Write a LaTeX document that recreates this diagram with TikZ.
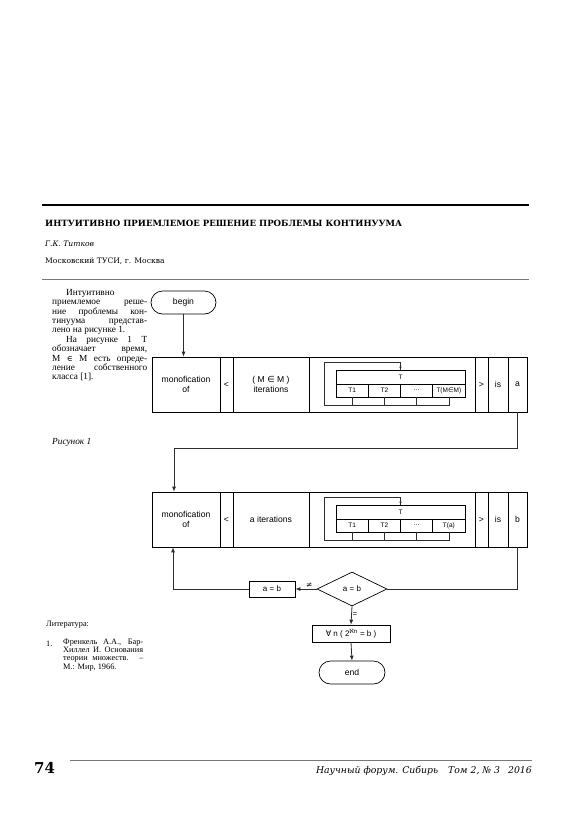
\documentclass[tikz,border=0pt]{standalone}
\usepackage{fontspec}
\setmainfont{Liberation Serif}
\setsansfont{Liberation Sans}
\newfontfamily\headfont{DejaVu Serif}
\newfontfamily\symfont{DejaVu Sans}
\usetikzlibrary{arrows.meta,positioning,shapes.geometric,shapes.misc,calc}
\usepackage{xcolor}
\definecolor{rulegrey}{RGB}{120,120,120}
\definecolor{flowcol}{RGB}{45,45,45}
\tikzset{
  pagetext/.style={inner sep=0pt,anchor=west},
  bodytext/.style={inner sep=0pt,anchor=north west,align=justify,
                   font=\fontsize{9.3}{9.4}\selectfont},
  cell/.style={draw=black,line width=.7pt,minimum height=55pt,inner sep=1pt,
               align=center,font=\sffamily\fontsize{8.6}{10}\selectfont},
  tcell/.style={draw=black,line width=.6pt,minimum width=32.25pt,
                minimum height=13pt,inner sep=0pt,
                font=\sffamily\fontsize{6.5}{7}\selectfont},
  terminal/.style={rounded rectangle,draw=black,line width=.7pt,
                   minimum width=67pt,minimum height=23pt,inner sep=1pt,
                   font=\sffamily\fontsize{8.6}{10}\selectfont},
  procbox/.style={rectangle,draw=black,line width=.7pt,minimum height=16pt,
                  inner sep=1pt,font=\sffamily\fontsize{8}{9}\selectfont},
  decision/.style={diamond,draw=black,line width=.7pt,minimum width=70pt,
                   minimum height=34pt,inner sep=0pt,
                   font=\sffamily\fontsize{8}{9}\selectfont},
  flow/.style={-{Latex[length=5pt,width=4pt]},draw=flowcol,line width=.8pt},
  link/.style={draw=flowcol,line width=.8pt},
  loopline/.style={draw=flowcol,line width=.6pt},
  lbl/.style={inner sep=1pt,font=\sffamily\fontsize{7.5}{8}\selectfont},
}

\begin{document}
\begin{tikzpicture}[x=1pt,y=-1pt]
  \path[fill=white] (0,0) rectangle (580,820);
  \tolerance=10000 \hbadness=10000
  % ---------------- header ----------------
  \draw[line width=1.6pt] (42,205) -- (529,205);
  \node[pagetext,font=\headfont\bfseries\fontsize{8.6}{10}\selectfont] (title) at (45,223)
    {ИНТУИТИВНО ПРИЕМЛЕМОЕ РЕШЕНИЕ ПРОБЛЕМЫ КОНТИНУУМА};
  \node[pagetext,font=\headfont\itshape\fontsize{7.6}{9}\selectfont] (author) at (45,244)
    {Г.К. Титков};
  \node[pagetext,font=\headfont\fontsize{7.6}{9}\selectfont] (affil) at (45,261)
    {Московский ТУСИ, г. Москва};
  \draw[draw=rulegrey,line width=.7pt] (42,279) -- (529,279);
  % ---------------- left column ----------------
  \node[bodytext,text width=95pt] (intro) at (52,289)
    {\hspace*{14pt}Интуитивно\linebreak приемлемое реше-\linebreak
     ние проблемы кон-\linebreak тинуума представ-\linebreak
     лено на рисунке 1.\par
     \hspace*{14pt}На рисунке 1 Т\linebreak обозначает время,\linebreak
     M {\headfont\fontsize{8}{9.4}\selectfont ∈} M есть опреде-\linebreak ление собственного\linebreak
     класса [1].};
  \node[pagetext,font=\itshape\fontsize{9.3}{10}\selectfont] (figcap) at (52,442) {Рисунок 1};
  \node[pagetext,font=\fontsize{8.3}{8.3}\selectfont] (litcap) at (46,625) {Литература:};
  \node[pagetext,font=\fontsize{8.3}{8.3}\selectfont] (litnum) at (46,644) {1.};
  \node[bodytext,text width=80pt,font=\fontsize{8.3}{8.4}\selectfont] (littext) at (63,638.5)
    {Френкель А.А., Бар-\linebreak Хиллел И. Основания\linebreak
     теории множеств. --\linebreak М.: Мир, 1966.};
  % ---------------- block 1 ----------------
  \node[terminal] (begin) at (183.5,302.5) {begin};
  \node[cell,minimum width=68pt]  (mono1) at (186,384.5)   {monofication\\of};
  \node[cell,minimum width=13pt]  (lt1)   at (226.5,384.5) {<};
  \node[cell,minimum width=76pt]  (iter1) at (271,384.5)   {( M {\symfont ∈} M )\\iterations};
  \node[cell,minimum width=166pt] (area1) at (392,384.5)   {};
  \node[cell,minimum width=13pt]  (gt1)   at (481.5,384.5) {>};
  \node[cell,minimum width=20pt]  (is1)   at (498,384.5)   {is};
  \node[cell,minimum width=19pt]  (val1)  at (517.5,384.5) {a};
  \node[tcell,minimum width=129pt,minimum height=14pt] (tT1) at (400.5,377) {T};
  \node[tcell] (t11) at (352.1,390.5) {T1};
  \node[tcell] (t12) at (384.4,390.5) {T2};
  \node[tcell] (t13) at (416.6,390.5) {\dots};
  \node[tcell] (t14) at (448.9,390.5) {T(M{\symfont ∈}M)};
  \coordinate (loop1) at (324,362);
  \draw[loopline] (t14.south) -- ++(0,8) -| (loop1) -| (tT1.north);
  \draw[loopline,-{Latex[length=3pt,width=2.5pt]}] ($(tT1.north)+(0,-6)$) -- (tT1.north);
  \foreach \c in {t11,t12,t13}{
    \draw[loopline] (\c.south) -- ++(0,8);}
  % ---------------- block 2 ----------------
  \node[cell,minimum width=68pt]  (mono2) at (186,519.5)   {monofication\\of};
  \node[cell,minimum width=13pt]  (lt2)   at (226.5,519.5) {<};
  \node[cell,minimum width=76pt]  (iter2) at (271,519.5)   {a iterations};
  \node[cell,minimum width=166pt] (area2) at (392,519.5)   {};
  \node[cell,minimum width=13pt]  (gt2)   at (481.5,519.5) {>};
  \node[cell,minimum width=20pt]  (is2)   at (498,519.5)   {is};
  \node[cell,minimum width=19pt]  (val2)  at (517.5,519.5) {b};
  \node[tcell,minimum width=129pt,minimum height=14pt] (tT2) at (400.5,512) {T};
  \node[tcell] (t21) at (352.1,525.5) {T1};
  \node[tcell] (t22) at (384.4,525.5) {T2};
  \node[tcell] (t23) at (416.6,525.5) {\dots};
  \node[tcell] (t24) at (448.9,525.5) {T(a)};
  \coordinate (loop2) at (324,497);
  \draw[loopline] (t24.south) -- ++(0,8) -| (loop2) -| (tT2.north);
  \draw[loopline,-{Latex[length=3pt,width=2.5pt]}] ($(tT2.north)+(0,-6)$) -- (tT2.north);
  \foreach \c in {t21,t22,t23}{
    \draw[loopline] (\c.south) -- ++(0,8);}
  % ---------------- test and exit ----------------
  \node[decision] (test) at (352,589) {a = b};
  \node[procbox,minimum width=46pt] (swap) at (272,589) {a = b};
  \node[procbox,minimum width=78pt,minimum height=17pt] (result) at (351,633.5)
    {{\symfont ∀} n ( 2\textsuperscript{{\symfont ℵ}n} = b )};
  \node[terminal,minimum width=68pt] (end) at (352,672.5) {end};
  % ---------------- connectors ----------------
  \draw[flow] (begin.south) -- (begin.south |- mono1.north);
  \draw[flow] (val1.south) -- ++(0,36) -| ([xshift=-12pt]mono2.north);
  \draw[link] (val2.south) |- (test.east);
  \draw[flow] (test.west) -- node[lbl,above,pos=.35]{{\symfont ≠}} (swap.east);
  \draw[flow] (swap.west) -| ([xshift=-13pt]mono2.south);
  \draw[flow] (test.south) -- node[lbl,right,pos=.45]{=} (result.north);
  \draw[flow] (result.south) -- (end.north);
  % ---------------- footer ----------------
  \node[pagetext,font=\headfont\bfseries\fontsize{15}{17}\selectfont] (pagenum) at (34,768) {74};
  \draw[draw=rulegrey,line width=.7pt] (70,760) -- (532,760);
  \node[pagetext,anchor=east,font=\headfont\itshape\fontsize{9.3}{11}\selectfont] (journal) at (532,771)
    {Научный форум. Сибирь\hspace{10pt}Том 2, № 3\hspace{8pt}2016};
\end{tikzpicture}
\end{document}
